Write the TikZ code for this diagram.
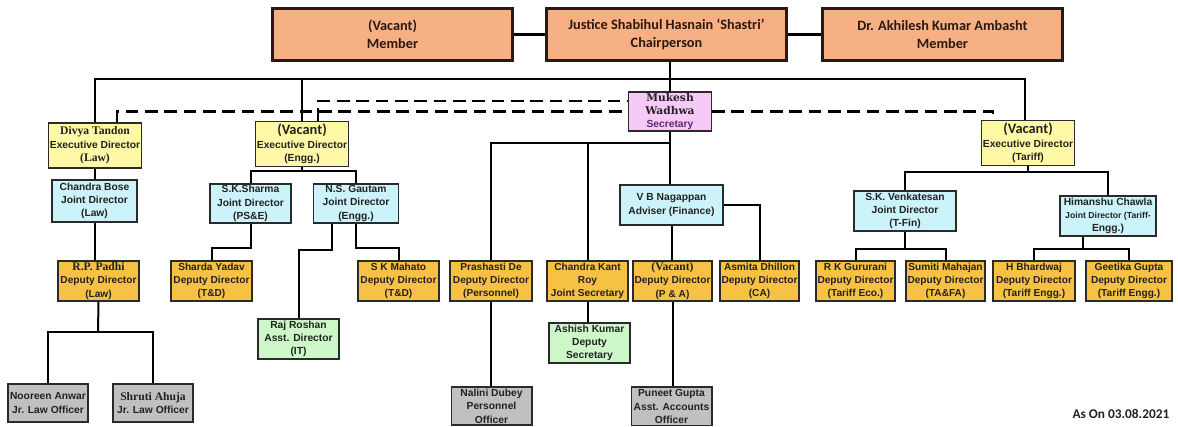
\documentclass[tikz,border=0pt]{standalone}
\usepackage{fontspec}
\setmainfont{Liberation Sans}
\newfontfamily\romfont{Liberation Serif}
\newfontfamily\secyfont{DejaVu Serif}
\newfontfamily\calfont{Carlito}
\usetikzlibrary{calc,positioning}
\definecolor{Ink}{HTML}{222222}
\definecolor{Rim}{HTML}{2A2A2A}
\definecolor{TopRim}{HTML}{2B1810}
\definecolor{Peach}{HTML}{F6B083}
\definecolor{Lemon}{HTML}{FFF8A6}
\definecolor{Ice}{HTML}{CCF3F9}
\definecolor{Gold}{HTML}{F7C244}
\definecolor{Lilac}{HTML}{F7C9F6}
\definecolor{Mint}{HTML}{CDF7C9}
\definecolor{Stone}{HTML}{C0C0C0}
\definecolor{Plum}{HTML}{5B2B6B}
\newcommand{\serifname}[1]{{\romfont\fontsize{8.7}{10}\selectfont #1}}
\newcommand{\secyname}[1]{{\secyfont\fontsize{8}{10}\selectfont #1}}
\newcommand{\vacant}{{\calfont\fontsize{10.8}{12}\selectfont (Vacant)}}

\begin{document}
\begin{tikzpicture}[x=0.75pt, y=-0.75pt,
      box/.style={draw=Rim, line width=1.2pt, align=center, inner sep=1pt, text=Ink,
                  font=\bfseries\fontsize{7.7}{10}\selectfont},
      topbox/.style={box, draw=TopRim, line width=2.2pt, fill=Peach, text=TopRim,
                  minimum width=180pt, minimum height=39pt,
                  font=\calfont\bfseries\fontsize{10.7}{13.5}\selectfont},
      execbox/.style={box, fill=Lemon, minimum width=69.5pt, minimum height=34pt},
      jointbox/.style={box, fill=Ice, minimum width=64pt, minimum height=30.3pt},
      depbox/.style={box, fill=Gold, minimum width=61pt, minimum height=30.3pt,
                  font=\bfseries\fontsize{7.6}{10}\selectfont},
      secybox/.style={box, fill=Lilac, minimum width=62pt, minimum height=29.5pt},
      asstbox/.style={box, fill=Mint, minimum width=61pt, minimum height=30.3pt},
      offbox/.style={box, fill=Stone, minimum width=60.3pt, minimum height=28.8pt},
      link/.style={line width=1.5pt},
      toplink/.style={line width=2.2pt},
      bus/.style={line width=1pt},
      dashlink/.style={line width=1.6pt, dash pattern=on 9.5pt off 5pt}
    ]
      \path[use as bounding box, fill=white] (0,0) rectangle (1178,427);

      \node[topbox] (chair) at (666.5,34.5) {Justice Shabihul Hasnain ‘Shastri’\\Chairperson};
      \node[topbox, left=23.25pt of chair] (member) {(Vacant)\\Member};
      \node[topbox, right=24.75pt of chair] (drmember) {Dr. Akhilesh Kumar Ambasht\\Member};

      \node[secybox] (secy) at (670,111.5) {\secyname{Mukesh}\\\secyname{Wadhwa}\\{\color{Plum}Secretary}};

      \node[execbox] (divya) at (95,145.5) {\serifname{Divya Tandon}\\Executive Director\\\serifname{(Law)}};
      \node[execbox] (engg) at (302,144) {\vacant\\Executive Director\\(Engg.)};
      \node[execbox] (tariff) at (1028,143) {\vacant\\Executive Director\\(Tariff)};

      \node[jointbox, minimum height=31.8pt] (cbose) at (94.5,201) {Chandra Bose\\Joint Director\\(Law)};
      \node[jointbox, minimum width=61pt, minimum height=29.5pt] (sksharma) at (250.5,203.5) {S.K.Sharma\\Joint Director\\(PS\&E)};
      \node[jointbox, minimum height=29.5pt] (gautam) at (356,203.5) {N.S. Gautam\\Joint Director\\(Engg.)};
      \node[jointbox, minimum width=77.5pt] (nagappan) at (671.5,205) {V B Nagappan\\Adviser (Finance)};
      \node[jointbox, minimum width=76.8pt] (venkat) at (905,211) {S.K. Venkatesan\\Joint Director\\(T-Fin)};
      \node[jointbox, minimum width=72.3pt] (himanshu) at (1108,216) {Himanshu Chawla\\{\fontsize{6.5}{9}\selectfont Joint Director (Tariff-}\\Engg.)};

      \node[depbox] (padhi) at (98.5,281) {\serifname{R.P. Padhi}\\Deputy Director\\(Law)};
      \node[depbox] (sharda) at (211.5,281) {Sharda Yadav\\Deputy Director\\(T\&D)};
      \node[depbox] (mahato) at (398.5,281) {S K Mahato\\Deputy Director\\(T\&D)};
      \node[depbox, minimum width=61.8pt] (prashasti) at (491,281) {Prashasti De\\Deputy Director\\(Personnel)};
      \node[depbox] (ckroy) at (587.5,281) {Chandra Kant\\Roy\\Joint Secretary};
      \node[depbox, minimum width=59.5pt] (vacdep) at (672.5,281) {\serifname{(Vacant)}\\Deputy Director\\(P \& A)};
      \node[depbox, minimum width=55pt] (asmita) at (759.5,281) {Asmita Dhillon\\Deputy Director\\(CA)};
      \node[depbox, minimum width=59.5pt] (gururani) at (855.5,281) {R K Gururani\\Deputy Director\\(Tariff Eco.)};
      \node[depbox, minimum width=59.5pt] (sumiti) at (945.5,281) {Sumiti Mahajan\\Deputy Director\\(TA\&FA)};
      \node[depbox, minimum width=61.8pt] (bhardwaj) at (1034,281) {H Bhardwaj\\Deputy Director\\(Tariff Engg.)};
      \node[depbox, minimum width=64.8pt] (geetika) at (1129,281) {Geetika Gupta\\Deputy Director\\(Tariff Engg.)};

      \node[asstbox] (raj) at (298.5,339) {Raj Roshan\\Asst. Director\\(IT)};
      \node[asstbox] (ashish) at (589.5,343) {Ashish Kumar\\Deputy\\Secretary};

      \node[offbox] (nooreen) at (48,403) {Nooreen Anwar\\Jr. Law Officer};
      \node[offbox] (shruti) at (153,403) {\serifname{Shruti Ahuja}\\Jr. Law Officer};
      \node[offbox] (nalini) at (491.5,406) {Nalini Dubey\\Personnel\\Officer};
      \node[offbox] (puneet) at (671.5,406.5) {Puneet Gupta\\Asst. Accounts\\Officer};

      \node[anchor=east, text=Ink, font=\calfont\bfseries\fontsize{10}{12}\selectfont] (asof) at (1174,414) {As On 03.08.2021};

      \coordinate (bus) at (670,79);
      \coordinate (sbus) at (670,143);
      \coordinate (lawbus) at (98,332);
      \coordinate (enggbus) at (302,171);
      \coordinate (tbus) at (1026,172);
      \coordinate (tfbus) at (905,249);
      \coordinate (tebus) at (1083,249);

      \draw[toplink] (member) -- (chair);
      \draw[toplink] (chair) -- (drmember);
      \draw[toplink] (chair.south -| secy) -- (secy.north);
      \draw[bus] (divya.north) |- (bus) -| ($(tariff.north)+(-3,0)$);
      \draw[bus] (engg.north) -- (engg.north |- bus);

      \draw[dashlink] ($(divya.north)+(22,0)$) |- (secy.west);
      \draw[dashlink] (secy.east) -| ($(tariff.north)+(-35,0)$);
      \draw[dashlink] ($(engg.north)+(16,0)$) |- ($(secy.west)+(0,-10.5)$);

      \draw[link] (secy.south) -- (secy.south |- nagappan.north);
      \draw[link] (prashasti.north) |- (sbus);
      \draw[link] (ckroy.north) -- (ckroy.north |- sbus);
      \draw[link] (nagappan.south) -- (nagappan.south |- vacdep.north);
      \draw[link] (nagappan.east) -| (asmita.north);
      \draw[link] (vacdep.south) -- (vacdep.south |- puneet.north);
      \draw[link] (prashasti.south) -- (prashasti.south |- nalini.north);
      \draw[link] (ckroy.south) -- (ckroy.south |- ashish.north);

      \draw[link] (divya.south) -- (divya.south |- cbose.north);
      \draw[link] (cbose.south) -- (cbose.south |- padhi.north);
      \draw[link] (padhi.south) -- (lawbus);
      \draw[link] (nooreen.north) |- (lawbus) -| (shruti.north);

      \draw[link] (engg.south) -- (enggbus);
      \draw[link] (sksharma.north) |- (enggbus) -| (gautam.north);
      \draw[link] (sksharma.south) -- ++(0,24) -| (sharda.north);
      \draw[link] ($(gautam.south)+(-24,0)$) -- ++(0,26) -| (raj.north);
      \draw[link] (gautam.south) -- ++(0,24) -| (mahato.north);

      \draw[link] (tariff.south) -- (tariff.south |- tbus);
      \draw[link] (venkat.north) |- (tbus) -| (himanshu.north);
      \draw[link] (venkat.south) -- (tfbus);
      \draw[link] (gururani.north) |- (tfbus) -| (sumiti.north);
      \draw[link] ($(himanshu.south)+(-25,0)$) -- (tebus);
      \draw[link] (bhardwaj.north) |- (tebus) -| (geetika.north);
    \end{tikzpicture}
\end{document}
